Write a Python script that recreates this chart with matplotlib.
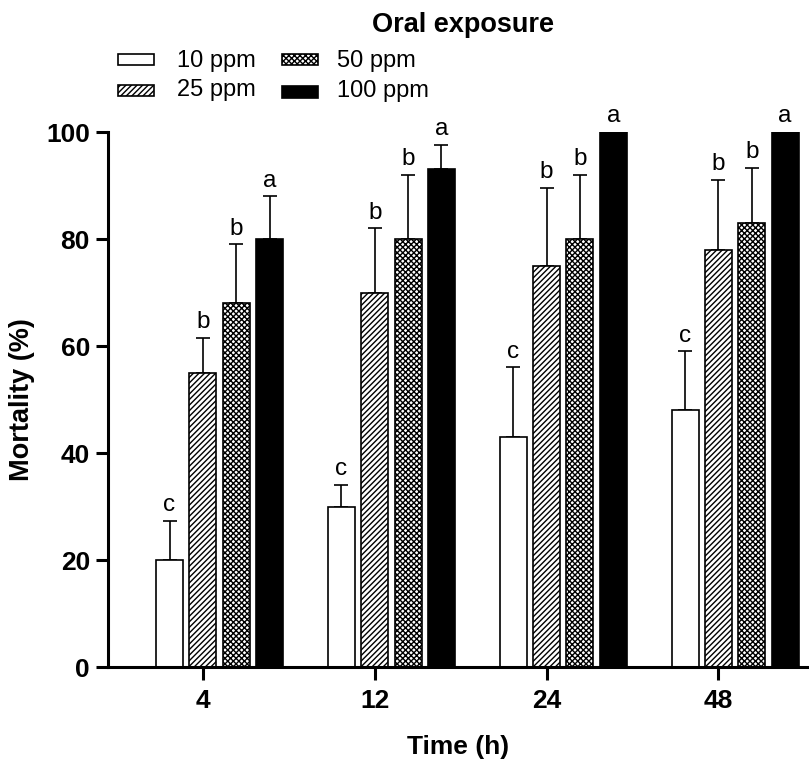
#!/usr/bin/env python
# Mortality (%) vs time for oral exposure, grouped bars

import numpy as np
import matplotlib
matplotlib.use('Agg')
import matplotlib.pyplot as plt
from matplotlib.patches import Rectangle

# Some configuration
DPI = 100
plt.rcParams['font.family'] = ['Liberation Sans', 'DejaVu Sans']
plt.rcParams['hatch.linewidth'] = 1.0

# Data
times = ['4', '12', '24', '48']
doses = ['10 ppm', '25 ppm', '50 ppm', '100 ppm']

mort10 = [20, 30, 43, 48]
err10 = [7.3, 4, 13, 11]
mort25 = [55, 70, 75, 78]
err25 = [6.5, 12, 14.5, 13]
mort50 = [68, 80, 80, 83]
err50 = [11, 12, 12, 10.3]
mort100 = [80, 93, 100, 100]
err100 = [8, 4.6, 0, 0]

let10 = ['c', 'c', 'c', 'c']
let25 = ['b', 'b', 'b', 'b']
let50 = ['b', 'b', 'b', 'b']
let100 = ['a', 'a', 'a', 'a']

means = [mort10, mort25, mort50, mort100]
errs = [err10, err25, err50, err100]
letters = [let10, let25, let50, let100]

# Styles per dose
faces = ['white', 'white', 'white', 'black']
hatches = [None, '//////', 'xxxxxx', None]

# Open figure
fig = plt.figure(figsize=(8.09, 7.69), dpi=DPI)
ax = fig.add_axes([0.1335, 0.1326, 0.865, 0.6957])

x = np.arange(len(times))
pitch = 0.194
width = 0.157

for i in range(len(doses)):
    xi = x + (i - 1) * pitch
    ax.bar(xi, means[i], width=width, color=faces[i], edgecolor='black',
           linewidth=1.2, hatch=hatches[i], zorder=2)

    # Upper error bars only (skip zero error)
    e = np.array(errs[i], dtype=float)
    m = np.array(means[i], dtype=float)
    ok = e > 0
    ax.errorbar(xi[ok], m[ok], yerr=[np.zeros(ok.sum()), e[ok]], fmt='none',
                ecolor='black', elinewidth=1.2, capsize=5, capthick=1.2, zorder=1)

    # Significance letters
    for j in range(len(times)):
        ax.annotate(letters[i][j], (xi[j], m[j] + e[j]), xytext=(0, 7),
                    textcoords='offset points', ha='center', va='baseline',
                    fontsize=17.5, annotation_clip=False)

# Arrange plot
ax.set_xlim(-0.552, 3.52)
ax.set_ylim(0, 100)
ax.set_yticks([0, 20, 40, 60, 80, 100])
ax.set_xticks(x)
ax.set_xticklabels(times)
for s in ['top', 'right']:
    ax.spines[s].set_visible(False)
for s in ['left', 'bottom']:
    ax.spines[s].set_linewidth(2.2)
ax.tick_params(axis='both', length=9, width=2.2, labelsize=19)
ax.tick_params(axis='y', pad=4)
ax.tick_params(axis='x', pad=7)
for lab in ax.get_xticklabels() + ax.get_yticklabels():
    lab.set_fontweight('bold')
ax.set_xlabel('Time (h)', fontsize=19, fontweight='bold', labelpad=16)
ax.set_ylabel('Mortality (%)', fontsize=19.5, fontweight='bold', labelpad=8)

# Title
W, H = 809.0, 769.0
fig.text(462.5 / W, 1 - 32 / H, 'Oral exposure', ha='center', va='baseline',
         fontsize=19.5, fontweight='bold')

# Legend (drawn in figure pixels): patch x, patch top, patch height, text x, baseline
leg_pos = [(118, 54, 11, 177, 67), (118, 85, 11, 177, 96),
           (282, 54, 11, 337, 67), (282, 86, 12, 337, 97)]
for i, (px, pt, ph, tx, tb) in enumerate(leg_pos):
    r = Rectangle((px / W, 1 - (pt + ph) / H), 36 / W, ph / H,
                  transform=fig.transFigure, facecolor=faces[i],
                  edgecolor='black', linewidth=1.2, hatch=hatches[i])
    fig.patches.append(r)
    fig.text(tx / W, 1 - tb / H, doses[i], ha='left', va='baseline', fontsize=17)

fig.savefig('out.png', dpi=DPI)
